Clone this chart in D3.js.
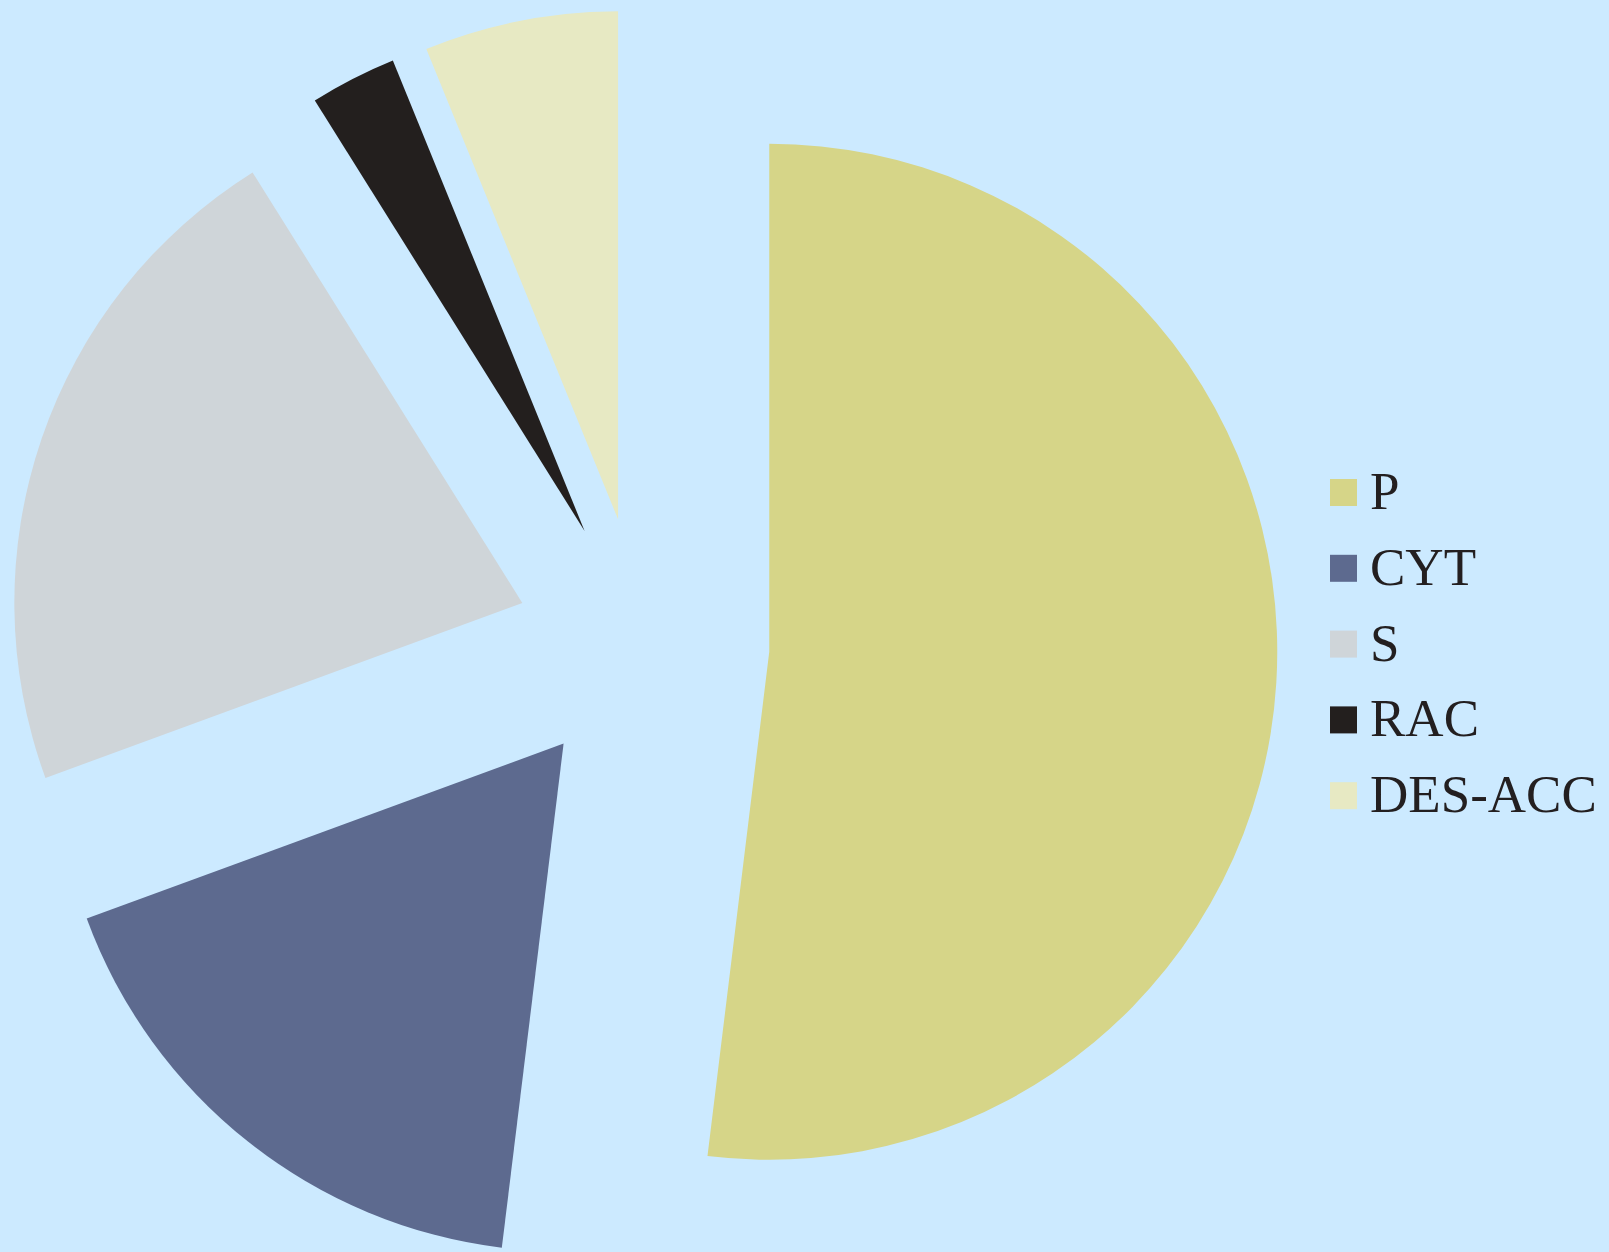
<!DOCTYPE html>
<html lang="en">
<head>
    <meta charset="UTF-8">
    <title>Exploded pie</title>
    <script src="https://d3js.org/d3.v7.min.js"></script>
    <style>
        html, body { margin: 0; padding: 0; background: #cceaff; overflow: hidden; }
        svg { display: block; }
    </style>
</head>
<body>
    <svg id="chart" width="1609" height="1252"></svg>

    <script>
        // data (percent of total)
        const categories = ["P", "CYT", "S", "RAC", "DES-ACC"];
        const shares = [51.94, 17.46, 21.69, 2.75, 6.16];
        const colors = ["#d6d588", "#5d6a8f", "#cfd5d9", "#231f1e", "#e7e9c3"];

        const svg = d3.select("#chart");
        const width = +svg.attr("width");
        const height = +svg.attr("height");

        svg.append("rect")
            .attr("width", width)
            .attr("height", height)
            .attr("fill", "#cceaff");

        const cx = 642.5, cy = 644;
        const radius = 508;
        const explode = radius * 0.25;

        const data = categories.map((c, i) => ({ name: c, value: shares[i], color: colors[i] }));

        const pie = d3.pie()
            .sort(null)
            .value(d => d.value);

        const arc = d3.arc()
            .innerRadius(0)
            .outerRadius(radius);

        const g = svg.append("g")
            .attr("transform", `translate(${cx},${cy})`);

        g.selectAll("path.slice")
            .data(pie(data))
            .enter()
            .append("path")
            .classed("slice", true)
            .attr("d", arc)
            .attr("fill", d => d.data.color)
            .attr("transform", d => {
                const mid = (d.startAngle + d.endAngle) / 2;
                const dx = Math.sin(mid) * explode;
                const dy = -Math.cos(mid) * explode;
                return `translate(${dx},${dy})`;
            });

        // legend
        const legend = svg.append("g")
            .attr("transform", "translate(1330,479)");

        const rows = legend.selectAll("g.item")
            .data(data)
            .enter()
            .append("g")
            .classed("item", true)
            .attr("transform", (d, i) => `translate(0,${i * 75.8})`);

        rows.append("rect")
            .attr("width", 27)
            .attr("height", 27)
            .attr("fill", d => d.color);

        rows.append("text")
            .attr("x", 40)
            .attr("y", 30)
            .style("font-family", "'Liberation Serif', 'Times New Roman', serif")
            .style("font-size", "53px")
            .attr("fill", "#231f20")
            .text(d => d.name);
    </script>
</body>
</html>
